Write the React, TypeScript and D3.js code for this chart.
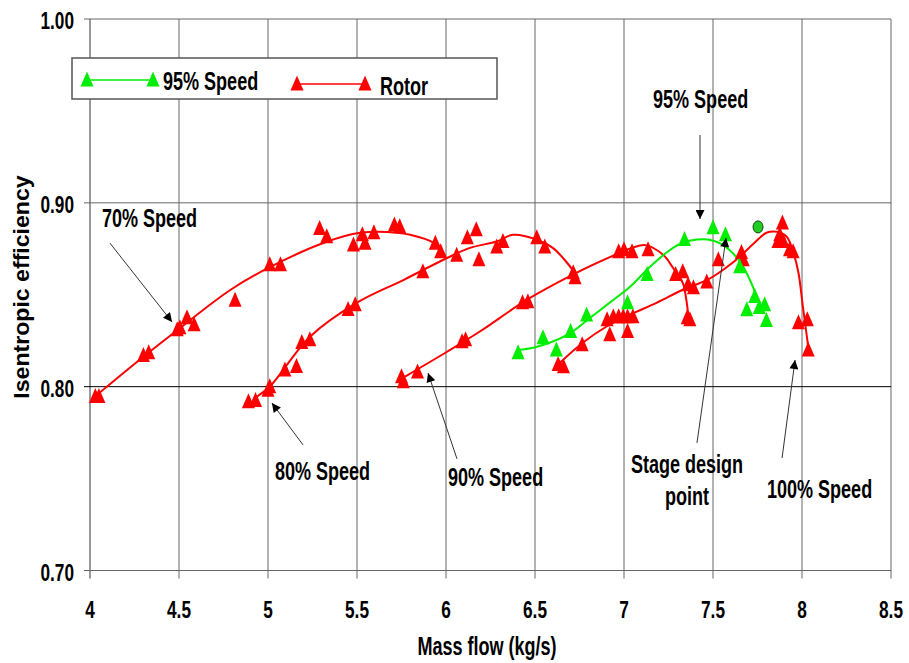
import * as d3 from "d3";

// marker readings (x = mass flow kg/s, y = isentropic efficiency)
const speed70Pts: [number, number][] = [
  [4.03, 0.7946], [4.05, 0.7946], [4.30, 0.817], [4.33, 0.8185], [4.49, 0.831], [4.505, 0.832],
  [4.545, 0.8375], [4.585, 0.8337], [4.815, 0.847], [5.01, 0.8663], [5.07, 0.8663], [5.29, 0.886],
  [5.33, 0.8815], [5.48, 0.877], [5.53, 0.8826], [5.545, 0.878], [5.595, 0.8837], [5.71, 0.888],
  [5.74, 0.887], [5.94, 0.878], [5.97, 0.8734],
];
const speed80Pts: [number, number][] = [
  [4.89, 0.7918], [4.93, 0.7925], [5.0, 0.798], [5.01, 0.8], [5.095, 0.809], [5.16, 0.811],
  [5.19, 0.824], [5.235, 0.8255], [5.45, 0.842], [5.49, 0.8445], [5.87, 0.8625], [6.06, 0.8715],
  [6.12, 0.881], [6.17, 0.8853], [6.185, 0.869], [6.285, 0.876], [6.32, 0.879], [6.51, 0.881],
  [6.555, 0.876], [6.715, 0.862], [6.725, 0.8593],
];
const speed90Pts: [number, number][] = [
  [5.75, 0.8054], [5.76, 0.8027], [5.84, 0.808], [6.09, 0.8245], [6.11, 0.8255], [6.43, 0.8457],
  [6.46, 0.8462], [6.97, 0.8734], [7.0, 0.8745], [7.045, 0.8734], [7.135, 0.8745], [7.29, 0.861],
  [7.33, 0.8625], [7.355, 0.8375], [7.37, 0.8364],
];
const rotorPts: [number, number][] = [
  [6.63, 0.812], [6.66, 0.8109], [6.765, 0.8228], [6.905, 0.8364], [6.92, 0.8283], [6.94, 0.838],
  [6.97, 0.838], [6.995, 0.838], [7.02, 0.830], [7.02, 0.838], [7.05, 0.838], [7.36, 0.8554],
  [7.39, 0.8538], [7.465, 0.857], [7.53, 0.869], [7.66, 0.873], [7.67, 0.869], [7.865, 0.879],
  [7.875, 0.8826], [7.89, 0.889], [7.895, 0.879], [7.93, 0.8745], [7.95, 0.8734], [7.98, 0.8348],
  [8.03, 0.8364], [8.035, 0.820],
];
const speed95Pts: [number, number][] = [
  [6.405, 0.8185], [6.545, 0.8266], [6.62, 0.820], [6.70, 0.830], [6.79, 0.839], [7.02, 0.8457],
  [7.13, 0.861], [7.34, 0.88], [7.5, 0.8864], [7.57, 0.8826], [7.65, 0.8652], [7.69, 0.8418],
  [7.735, 0.849], [7.76, 0.843], [7.79, 0.8446], [7.80, 0.836],
];

// fitted speed lines
const speed70Line: [number, number][] = [
  [4.02, 0.794], [4.30, 0.8163], [4.494, 0.831], [4.79, 0.8527], [5.01, 0.865], [5.33, 0.8788],
  [5.517, 0.8837], [5.67, 0.8842], [5.80, 0.8826], [5.93, 0.8783], [5.995, 0.8712],
];
const speed80Line: [number, number][] = [
  [4.89, 0.789], [4.94, 0.7946], [5.01, 0.80], [5.236, 0.8272], [5.5, 0.8457], [5.76, 0.858],
  [6.006, 0.870], [6.135, 0.8755], [6.285, 0.879], [6.376, 0.8826], [6.51, 0.880], [6.60, 0.8755],
  [6.68, 0.8674], [6.736, 0.86],
];
const speed90Line: [number, number][] = [
  [5.77, 0.8055], [6.006, 0.819], [6.19, 0.83], [6.455, 0.8473], [6.713, 0.861], [6.98, 0.873],
  [7.045, 0.8755], [7.12, 0.877], [7.22, 0.8717], [7.275, 0.8647], [7.33, 0.8565], [7.35, 0.8473],
  [7.36, 0.840],
];
const speed95Line: [number, number][] = [
  [6.405, 0.820], [6.49, 0.8212], [6.585, 0.824], [6.70, 0.8293], [6.81, 0.8375], [6.92, 0.8457],
  [7.034, 0.8543], [7.146, 0.8652], [7.26, 0.8745], [7.33, 0.8783], [7.41, 0.880], [7.47, 0.880],
  [7.54, 0.878], [7.61, 0.8728], [7.67, 0.8652], [7.736, 0.8516],
];
const rotorLine: [number, number][] = [
  [6.64, 0.813], [6.77, 0.824], [6.90, 0.8326], [7.03, 0.839], [7.185, 0.8457], [7.33, 0.8527],
  [7.47, 0.8582], [7.58, 0.8652], [7.65, 0.8707], [7.73, 0.878], [7.80, 0.8837], [7.865, 0.8842],
  [7.915, 0.8815], [7.95, 0.8734], [7.98, 0.862], [8.005, 0.8435], [8.035, 0.8217],
];
const designPoint: [number, number] = [7.753, 0.8869];

const xTicks = [4, 4.5, 5, 5.5, 6, 6.5, 7, 7.5, 8, 8.5];
const yTicks = [0.7, 0.8, 0.9, 1.0];

// callouts: label lines, label anchor, arrow tail -> tip (data units)
const notes = [
  { lines: ["70% Speed"], at: [4.067, 0.8869], anchor: "start", from: [4.112, 0.8781], to: [4.461, 0.8352] },
  { lines: ["80% Speed"], at: [5.039, 0.7492], anchor: "start", from: [5.197, 0.7683], to: [5.022, 0.7911] },
  { lines: ["90% Speed"], at: [6.011, 0.746], anchor: "start", from: [6.062, 0.7607], to: [5.899, 0.8074] },
  { lines: ["95% Speed"], at: [7.163, 0.9516], anchor: "start", from: [7.427, 0.9369], to: [7.427, 0.8912] },
  { lines: ["Stage design", "point"], at: [7.354, 0.753], anchor: "middle", from: [7.41, 0.7694], to: [7.573, 0.8809] },
  { lines: ["100% Speed"], at: [7.803, 0.7394], anchor: "start", from: [7.888, 0.7612], to: [7.961, 0.8145] },
];

// Arial-ish bold squeezed sideways, stretched up: stands in for the narrow bold face
const SANS = "'Liberation Sans', Arial, sans-serif";
const RED = "#ff0000";
const GREEN = "#00ee00";

function Tri({ x, y, fill }: { x: number; y: number; fill: string }) {
  return <path d={`M${x},${y - 8.5}L${x + 6.5},${y + 6.5}L${x - 6.5},${y + 6.5}Z`} fill={fill} />;
}

function Label({ x, y, children, anchor = "start", size = 22 }: any) {
  return (
    <text transform={`translate(${x},${y}) scale(0.82,1.14)`} textAnchor={anchor} fontFamily={SANS}
      fontWeight="bold" fontSize={size} fill="#000">{children}</text>
  );
}

export default function App() {
  const W = 909, H = 663;
  const x = d3.scaleLinear().domain([4, 8.5]).range([90, 891]);
  const y = d3.scaleLinear().domain([0.7, 1.0]).range([570.5, 19]);
  const line = d3.line<[number, number]>().x((d) => x(d[0])).y((d) => y(d[1])).curve(d3.curveCatmullRom.alpha(0.5));

  const redLines = [speed70Line, speed80Line, speed90Line, rotorLine];
  const redPts = [...speed70Pts, ...speed80Pts, ...speed90Pts, ...rotorPts];

  return (
    <svg width={W} height={H} style={{ position: "absolute", left: 0, top: 0, background: "#fff" }}>
      <defs>
        <marker id="ah" viewBox="0 0 10 10" refX="10" refY="5" markerWidth="11" markerHeight="9" markerUnits="userSpaceOnUse" orient="auto">
          <path d="M0,0L10,5L0,10Z" fill="#000" />
        </marker>
      </defs>
      {/* grid */}
      {xTicks.map((t) => (
        <g key={`x${t}`}>
          <line x1={x(t)} x2={x(t)} y1={y(1)} y2={y(0.7) + 8} stroke={t === 4 ? "#333" : "#666"} />
          <Label x={x(t)} y={618} anchor="middle" size={21}>{String(t)}</Label>
        </g>
      ))}
      {yTicks.map((t) => (
        <g key={`y${t}`}>
          <line x1={x(4) - 6} x2={x(8.5)} y1={y(t)} y2={y(t)} stroke={t === 0.8 ? "#000" : "#666"} />
          <Label x={74} y={y(t) + 10} anchor="end" size={21}>{t.toFixed(2)}</Label>
        </g>
      ))}

      {/* speed lines */}
      {redLines.map((l, i) => (
        <path key={i} d={line(l) ?? ""} fill="none" stroke={RED} strokeWidth={2} />
      ))}
      <path d={line(speed95Line) ?? ""} fill="none" stroke={GREEN} strokeWidth={2} />

      {redPts.map((p, i) => <Tri key={`r${i}`} x={x(p[0])} y={y(p[1])} fill={RED} />)}
      {speed95Pts.map((p, i) => <Tri key={`g${i}`} x={x(p[0])} y={y(p[1])} fill={GREEN} />)}
      <ellipse cx={x(designPoint[0])} cy={y(designPoint[1])} rx={5} ry={6} fill="#22cc22" stroke="#114411" strokeWidth={1} />

      {/* callouts */}
      {notes.map((n, i) => (
        <g key={`n${i}`}>
          <line x1={x(n.from[0])} y1={y(n.from[1])} x2={x(n.to[0])} y2={y(n.to[1])} stroke="#333" strokeWidth={1} markerEnd="url(#ah)" />
          {n.lines.map((s, j) => (
            <Label key={j} x={x(n.at[0])} y={y(n.at[1]) + j * 32} anchor={n.anchor}>{s}</Label>
          ))}
        </g>
      ))}

      {/* legend */}
      <rect x={72} y={58} width={425} height={41} fill="#fff" stroke="#555" strokeWidth={1.5} />
      <line x1={87} x2={153} y1={80} y2={80} stroke={GREEN} strokeWidth={1.5} />
      <Tri x={87} y={80} fill={GREEN} />
      <Tri x={153} y={80} fill={GREEN} />
      <Label x={163} y={90}>95% Speed</Label>
      <line x1={297} x2={365} y1={84} y2={84} stroke={RED} strokeWidth={1.5} />
      <Tri x={297} y={84} fill={RED} />
      <Tri x={365} y={84} fill={RED} />
      <Label x={380} y={95}>Rotor</Label>

      {/* axis titles */}
      <Label x={487} y={655} anchor="middle">Mass flow (kg/s)</Label>
      <text transform={`translate(29,287) rotate(-90) scale(1.05,1)`} textAnchor="middle" fontFamily={SANS}
        fontWeight="bold" fontSize={22} fill="#000">Isentropic efficiency</text>
    </svg>
  );
}
